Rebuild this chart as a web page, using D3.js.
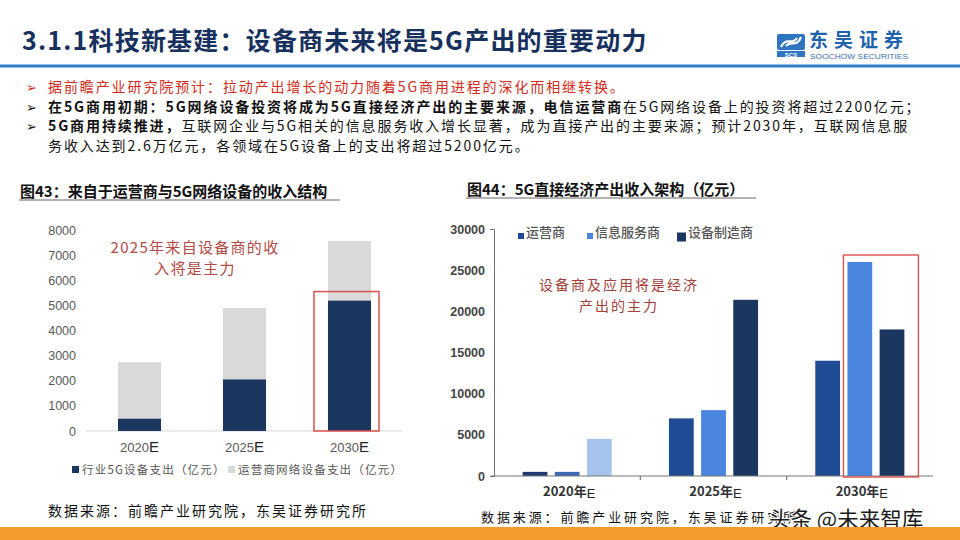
<!DOCTYPE html>
<html lang="zh">
<head>
<meta charset="UTF-8">
<title>5G产出</title>
<style>
  body { margin: 0; background: #fff; }
  text { font-family: "Noto Sans CJK SC", "Noto Sans", sans-serif; }
  .num { font-family: "Liberation Sans", Arial, sans-serif; }
</style>
</head>
<body>
<div id="page"></div>
<script src="https://cdnjs.cloudflare.com/ajax/libs/d3/7.8.5/d3.min.js"></script>
<script>
    // left chart data (图43)
    const years = ["2020", "2025", "2030"];
    const industrySpend = [500, 2060, 5200];   // 行业5G设备支出
    const operatorSpend = [2240, 2840, 2360];  // 运营商网络设备支出（叠加在上）
    const leftSeries = ["行业5G设备支出（亿元）", "运营商网络设备支出（亿元）"];

    // right chart data (图44)
    const groups = ["2020年", "2025年", "2030年"];
    const seriesNames = ["运营商", "信息服务商", "设备制造商"];
    const operators = [500, 7000, 14000];
    const infoServices = [500, 8000, 26000];
    const equipment = [4500, 21400, 17800];

    // bullet lines: [text, bold]
    const bullets = [
        {color: "#d42a20", parts: [["据前瞻产业研究院预计：拉动产出增长的动力随着5G商用进程的深化而相继转换。", false]]},
        {color: "#111", parts: [["在5G商用初期：5G网络设备投资将成为5G直接经济产出的主要来源，电信运营商", true], ["在5G网络设备上的投资将超过2200亿元；", false]]},
        {color: "#111", parts: [["5G商用持续推进，", true], ["互联网企业与5G相关的信息服务收入增长显著，成为直接产出的主要来源；预计2030年，互联网信息服", false]]},
        {color: "#111", parts: [["务收入达到2.6万亿元，各领域在5G设备上的支出将超过5200亿元。", false]], noArrow: true}
    ];

    const svg = d3.select("#page").append("svg")
        .attr("width", 960).attr("height", 540);
    svg.append("rect").attr("width", 960).attr("height", 540).attr("fill", "#fff");

    // ---- header ----
    svg.append("text")
        .attr("x", 22).attr("y", 50)
        .attr("font-size", 25).attr("font-weight", 700).attr("letter-spacing", 1.2)
        .attr("fill", "#17305e")
        .text("3.1.1科技新基建：设备商未来将是5G产出的重要动力");

    svg.append("line")
        .attr("x1", 0).attr("x2", 960).attr("y1", 66).attr("y2", 66)
        .style("stroke", "#2f80c8").style("stroke-width", 3);

    // logo
    const logo = svg.append("g");
    logo.append("rect").attr("x", 777).attr("y", 34).attr("width", 28).attr("height", 16)
        .attr("rx", 2).attr("fill", "#2f74c0");
    logo.append("path")
        .attr("d", "M781,47 C786,36 792,46 797,38 M786,46 C791,40 797,48 801,37")
        .style("fill", "none").style("stroke", "#fff").style("stroke-width", 2.2);
    logo.append("rect").attr("x", 777).attr("y", 51).attr("width", 28).attr("height", 6).attr("fill", "#2f74c0");
    logo.append("text").attr("x", 791).attr("y", 56.5).attr("text-anchor", "middle")
        .attr("font-size", 6).attr("font-weight", 700).attr("fill", "#fff").attr("class", "num").text("SCS");
    logo.append("text").attr("x", 809).attr("y", 47)
        .attr("font-size", 19).attr("font-weight", 700).attr("fill", "#1f62ad")
        .attr("letter-spacing", 6).text("东吴证券");
    logo.append("text").attr("x", 810).attr("y", 59).attr("class", "num")
        .attr("font-size", 7).attr("fill", "#3a6fb0")
        .attr("textLength", 98).attr("lengthAdjust", "spacingAndGlyphs")
        .text("SOOCHOW SECURITIES");

    // ---- bullets ----
    bullets.forEach((b, i) => {
        const y = 92 + i * 19.7;
        if (!b.noArrow) {
            svg.append("text").attr("x", 26).attr("y", y)
                .attr("font-size", 13).attr("fill", i === 0 ? "#d42a20" : "#111")
                .attr("font-family", "DejaVu Sans").text("➢");
        }
        const t = svg.append("text").attr("x", 48).attr("y", y)
            .attr("font-size", 14).attr("letter-spacing", 1.9).attr("fill", b.color);
        b.parts.forEach(p => {
            t.append("tspan").attr("font-weight", p[1] ? 700 : 400).text(p[0]);
        });
    });

    // ---- chart titles ----
    function chartTitle(x, y, w, label) {
        svg.append("text").attr("x", x).attr("y", y)
            .attr("font-size", 15).attr("font-weight", 700).attr("fill", "#111")
            .text(label);
        svg.append("line").attr("x1", x - 1).attr("x2", x + w).attr("y1", y + 3).attr("y2", y + 3)
            .style("stroke", "#666").style("stroke-width", 1.2);
    }
    chartTitle(20, 197, 320, "图43：来自于运营商与5G网络设备的收入结构");
    chartTitle(467, 195, 289, "图44：5G直接经济产出收入架构（亿元）");

    // ---- left chart: stacked bars ----
    const yL = d3.scaleLinear().domain([0, 8000]).range([431, 230]);
    const xL = d3.scaleBand().domain(years).range([87, 402]).paddingInner(0.59).paddingOuter(0.295);
    const leftColors = ["#1b365f", "#d9d9d9"];

    const gL = svg.append("g");
    gL.append("g")
        .attr("transform", "translate(80,0)")
        .call(d3.axisLeft(yL).ticks(8).tickFormat(d3.format("d")).tickSize(0).tickPadding(4))
        .call(g => g.select(".domain").remove())
        .selectAll("text")
        .attr("class", "num").attr("font-size", 12.5).attr("fill", "#595959");

    gL.append("line").attr("x1", 86).attr("x2", 403).attr("y1", yL(0)).attr("y2", yL(0))
        .style("stroke", "#d9d9d9").style("stroke-width", 1);

    const stackRows = years.map((y, i) => ({year: y, industry: industrySpend[i], operator: operatorSpend[i]}));
    const stacked = d3.stack().keys(["industry", "operator"])(stackRows);
    stacked.forEach((layer, li) => {
        gL.selectAll(null).data(layer).enter().append("rect")
            .attr("x", d => xL(d.data.year))
            .attr("width", xL.bandwidth())
            .attr("y", d => yL(d[1]))
            .attr("height", d => yL(d[0]) - yL(d[1]))
            .attr("fill", leftColors[li]);
    });

    years.forEach(y => {
        const t = gL.append("text").attr("x", xL(y) + xL.bandwidth() / 2).attr("y", 452)
            .attr("text-anchor", "middle");
        t.append("tspan").attr("class", "num").attr("font-size", 13).attr("fill", "#595959").text(y);
        t.append("tspan").attr("class", "num").attr("font-size", 15).attr("fill", "#222").text("E");
    });

    // red highlight on 2030
    gL.append("rect")
        .attr("x", xL("2030") - 14).attr("width", xL.bandwidth() + 22)
        .attr("y", yL(5550)).attr("height", yL(0) - yL(5550))
        .style("fill", "none").style("stroke", "#d9534f").style("stroke-width", 1.5);

    gL.append("text").attr("x", 195).attr("y", 253).attr("text-anchor", "middle")
        .attr("font-size", 15).attr("letter-spacing", 1.3).attr("fill", "#b24a47")
        .text("2025年来自设备商的收");
    gL.append("text").attr("x", 195).attr("y", 274).attr("text-anchor", "middle")
        .attr("font-size", 15).attr("letter-spacing", 1.3).attr("fill", "#b24a47")
        .text("入将是主力");

    // legend
    const legL = [[72, 0], [228, 1]];
    legL.forEach(([lx, i]) => {
        gL.append("rect").attr("x", lx).attr("y", 466).attr("width", 7).attr("height", 7).attr("fill", leftColors[i]);
        gL.append("text").attr("x", lx + 10).attr("y", 474)
            .attr("font-size", 11.5).attr("letter-spacing", 1.2).attr("fill", "#555")
            .text(leftSeries[i]);
    });

    svg.append("text").attr("x", 48).attr("y", 516)
        .attr("font-size", 14).attr("letter-spacing", 2).attr("fill", "#111")
        .text("数据来源：前瞻产业研究院，东吴证券研究所");

    // ---- right chart: grouped bars ----
    const yR = d3.scaleLinear().domain([0, 30000]).range([476, 229]);
    const x0 = d3.scaleBand().domain(groups).range([494, 933]);
    const x1 = d3.scaleBand().domain(seriesNames).range([0, x0.bandwidth()]).paddingInner(0.23).paddingOuter(0.89);
    const seriesColors = ["#1f4a94", "#4a86e0", "#1b365f"];
    const colors2020 = ["#1f3a70", "#3d68b0", "#a6c3ee"];
    const values = [operators, infoServices, equipment];

    const gR = svg.append("g");
    gR.append("g")
        .attr("transform", "translate(494,0)")
        .call(d3.axisLeft(yR).ticks(6).tickFormat(d3.format("d")).tickSizeInner(0).tickSizeOuter(4).tickPadding(9))
        .call(g => g.select(".domain").style("stroke", "#777"))
        .selectAll("text")
        .attr("class", "num").attr("font-size", 12.5).attr("font-weight", 700).attr("fill", "#444");

    groups.forEach((g, gi) => {
        seriesNames.forEach((s, si) => {
            const v = values[si][gi];
            gR.append("rect")
                .attr("x", x0(g) + x1(s))
                .attr("width", x1.bandwidth())
                .attr("y", yR(v))
                .attr("height", yR(0) - yR(v))
                .attr("fill", gi === 0 ? colors2020[si] : seriesColors[si]);
        });
    });

    gR.append("line").attr("x1", 491).attr("x2", 933).attr("y1", yR(0)).attr("y2", yR(0))
        .style("stroke", "#777").style("stroke-width", 1.2);
    groups.slice(1).forEach(g => {
        gR.append("line").attr("x1", x0(g)).attr("x2", x0(g)).attr("y1", yR(0)).attr("y2", yR(0) + 4)
            .style("stroke", "#777").style("stroke-width", 1.2);
    });

    groups.forEach(g => {
        const t = gR.append("text").attr("x", x0(g) + x0.bandwidth() / 2 + 2).attr("y", 496)
            .attr("text-anchor", "middle");
        t.append("tspan").attr("font-size", 13).attr("font-weight", 700).attr("fill", "#333").text(g);
        t.append("tspan").attr("class", "num").attr("font-size", 13).attr("fill", "#222").attr("dy", 2).text("E");
    });

    // red highlight on 2030 info + equipment
    gR.append("rect")
        .attr("x", x0("2030年") + x1("信息服务商") - 4)
        .attr("width", x1("设备制造商") - x1("信息服务商") + x1.bandwidth() + 18)
        .attr("y", 255).attr("height", yR(0) - 255 + 1)
        .style("fill", "none").style("stroke", "#d9534f").style("stroke-width", 1.4);

    gR.append("text").attr("x", 619).attr("y", 290).attr("text-anchor", "middle")
        .attr("font-size", 14).attr("letter-spacing", 2).attr("fill", "#a4403b")
        .text("设备商及应用将是经济");
    gR.append("text").attr("x", 619).attr("y", 311).attr("text-anchor", "middle")
        .attr("font-size", 14).attr("letter-spacing", 2).attr("fill", "#a4403b")
        .text("产出的主力");

    // legend
    const legR = [[518, 6], [587, 6], [677, 9]];
    legR.forEach(([lx, sz], i) => {
        gR.append("rect").attr("x", lx).attr("y", 236 - sz / 2 - (i === 2 ? -1 : 0)).attr("width", sz).attr("height", sz)
            .attr("fill", seriesColors[i]);
        gR.append("text").attr("x", lx + sz + 2).attr("y", 237)
            .attr("font-size", 13).attr("font-weight", 500).attr("fill", "#555")
            .text(seriesNames[i]);
    });

    svg.append("text").attr("x", 481).attr("y", 522)
        .attr("font-size", 13).attr("letter-spacing", 2.9).attr("fill", "#111")
        .text("数据来源：前瞻产业研究院，东吴证券研究所");

    // watermark (covers the end of the source line, as in the picture)
    svg.append("text").attr("x", 769).attr("y", 527)
        .attr("font-size", 21.5).attr("fill", "#1a1a1a")
        .style("paint-order", "stroke").style("stroke", "#fff").style("stroke-width", 2)
        .text("头条 @未来智库");

    // bottom orange bar
    svg.append("rect").attr("x", 0).attr("y", 527).attr("width", 960).attr("height", 13).attr("fill", "#f59a2c");
</script>
</body>
</html>
